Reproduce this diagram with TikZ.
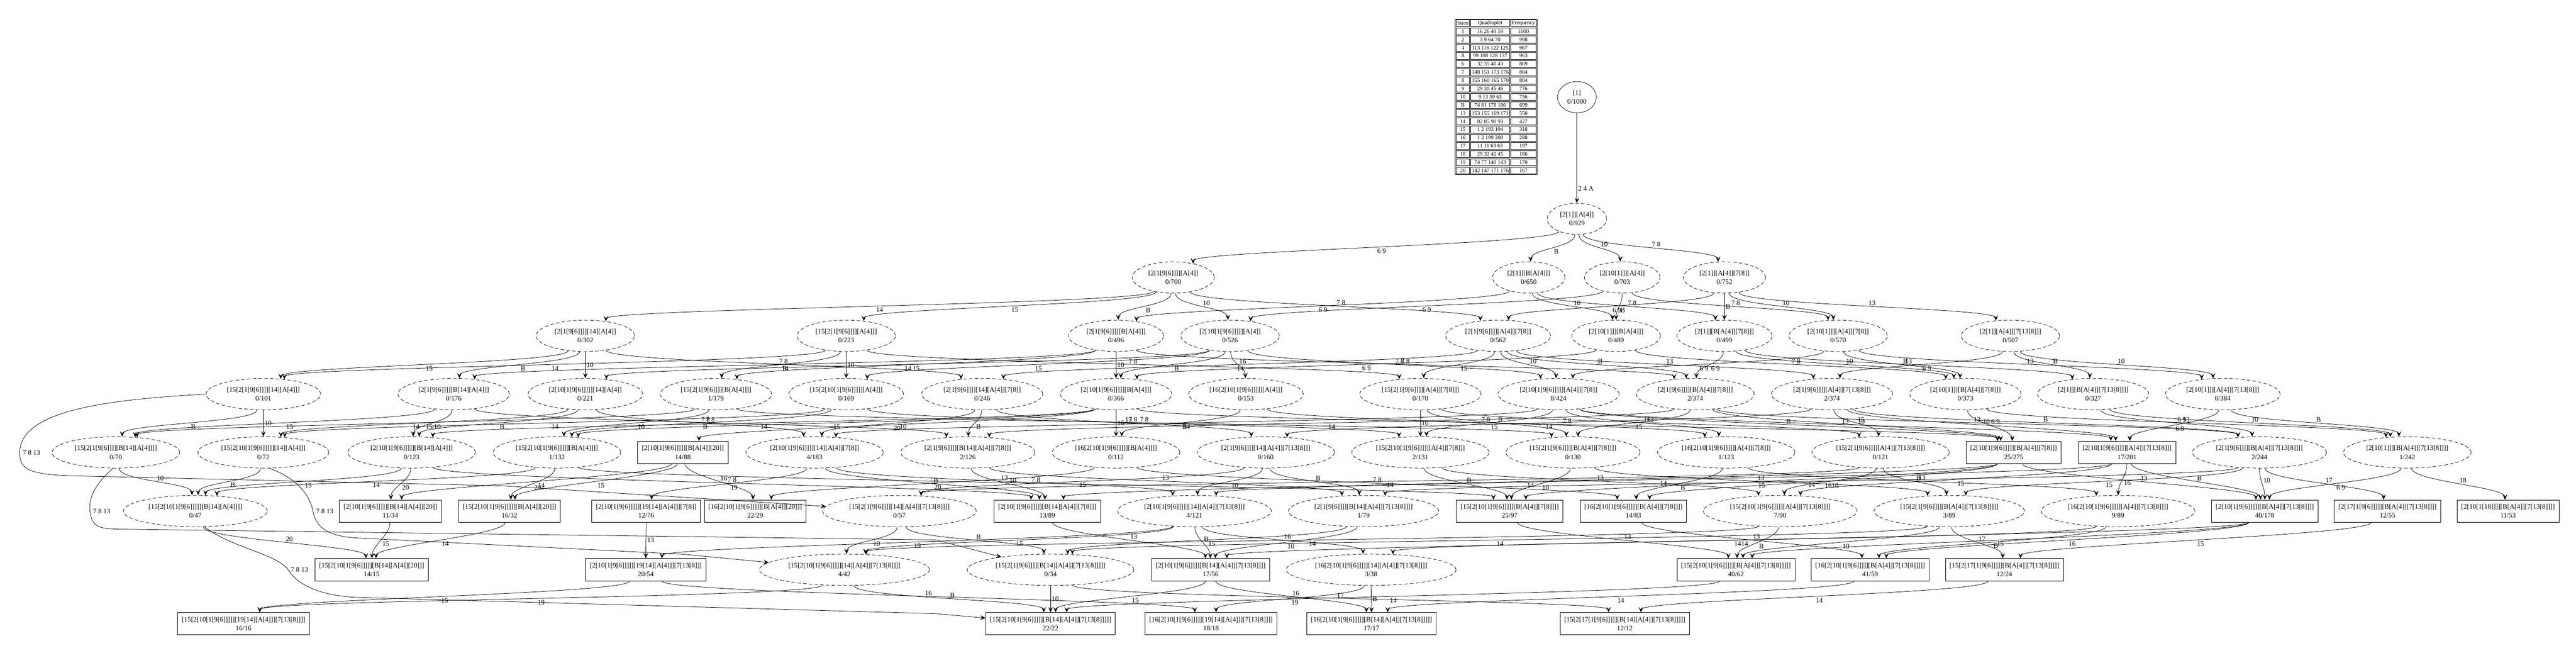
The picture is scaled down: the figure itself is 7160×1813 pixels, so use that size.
\documentclass[tikz,border=0pt]{standalone}
\usepackage{fontspec}
\setmainfont{Liberation Serif}
\usetikzlibrary{shapes.geometric,arrows.meta}
\newdimen\edgxa
\newdimen\edgxb
\newcommand{\nodefnt}{\fontsize{9.6pt}{12.5pt}\selectfont}
\newcommand{\tabfnt}{\fontsize{7.6pt}{9pt}\selectfont}
\tikzset{
  nbase/.style={align=center, font=\nodefnt, line width=0.55pt},
  sn/.style={nbase, draw, ellipse, inner xsep=5.66pt, inner ysep=1pt, minimum height=43.5pt},
  dn/.style={sn, dash pattern=on 5pt off 3pt},
  bx/.style={nbase, draw, rectangle, inner xsep=5.75pt, inner ysep=2pt, minimum height=31pt},
  conn/.style={draw, line width=0.55pt, -{Stealth[length=7.5pt,width=6.5pt,inset=3.2pt]}},
  lab/.style={auto, font=\nodefnt, inner sep=1.5pt},
  cell/.style={draw, line width=0.6pt},
  tx/.style={font=\tabfnt, inner sep=0pt}
}
\newcommand{\edg}[3]{%
  \pgfextractx{\edgxa}{\pgfpointanchor{#1}{center}}%
  \pgfextractx{\edgxb}{\pgfpointanchor{#2}{center}}%
  \pgfmathtruncatemacro{\edgd}{max(-55,min(55,(\edgxb-\edgxa)/9))}%
  \pgfmathtruncatemacro{\edgs}{-90+\edgd}%
  \pgfmathtruncatemacro{\edgt}{90+\edgd}%
  \draw[conn] (#1.\edgs) .. controls +(0,36) and +(0,-36) .. node[lab]{#3} (#2.\edgt);%
}
\begin{document}
\begin{tikzpicture}[x=0.5pt,y=-0.5pt]
\fill[white] (0,0) rectangle (7160,1813);
\useasboundingbox (0,0) rectangle (7160,1813);

% ---------- table ----------
\draw[cell] (4045,53) rectangle (4272,485);
\foreach \tS/\tQ/\tF [count=\tI from 0] in {Stem/Quadruplet/Frequency, 1/16 26 49 59/1000, 2/3 9 64 70/998, 4/113 116 122 125/967, A/99 108 128 137/963, 6/32 35 40 43/869, 7/148 151 173 176/804, 8/155 160 165 170/804, 9/29 30 45 46/776, 10/9 13 59 63/756, B/74 81 178 186/699, 13/153 155 169 171/550, 14/82 85 90 93/427, 15/1 2 193 194/318, 16/1 2 199 200/288, 17/11 11 63 63/197, 18/29 32 42 45/186, 19/74 77 140 143/170, 20/142 147 171 176/167}{
  \pgfmathsetmacro{\yt}{53+\tI*22.74}
  \draw[cell] (4047.5,\yt+1.6) rectangle (4084.5,\yt+21.2);
  \draw[cell] (4087.5,\yt+1.6) rectangle (4196.5,\yt+21.2);
  \draw[cell] (4199.5,\yt+1.6) rectangle (4269.5,\yt+21.2);
  \node[tx] (ts\tI) at (4066,\yt+11.4) {\tS};
  \node[tx] (tq\tI) at (4142,\yt+11.4) {\tQ};
  \node[tx] (tf\tI) at (4234.5,\yt+11.4) {\tF};
}

% ---------- nodes ----------
\node[sn] (root) at (4383,270) {[1]\\0/1000};
\node[dn] (n1) at (4383,608) {[2[1]][A[4]]\\0/929};

\node[dn] (a21) at (3261,771) {[2[1[9[6]]]][A[4]]\\0/700};
\node[dn] (a22) at (4249,771) {[2[1]][B[A[4]]]\\0/650};
\node[dn] (a23) at (4509,771) {[2[10[1]]][A[4]]\\0/703};
\node[dn] (a24) at (4793,771) {[2[1]][A[4]][7[8]]\\0/752};

\node[dn] (a31) at (1627,933) {[2[1[9[6]]]][14][A[4]]\\0/302};
\node[dn] (a32) at (2352,933) {[15[2[1[9[6]]]][A[4]]]\\0/223};
\node[dn] (a33) at (3102,933) {[2[1[9[6]]]][B[A[4]]]\\0/496};
\node[dn] (a34) at (3419,933) {[2[10[1[9[6]]]]][A[4]]\\0/526};
\node[dn] (a35) at (4164,933) {[2[1[9[6]]]][A[4]][7[8]]\\0/562};
\node[dn] (a36) at (4492,933) {[2[10[1]]][B[A[4]]]\\0/489};
\node[dn] (a37) at (4793,933) {[2[1]][B[A[4]][7[8]]]\\0/499};
\node[dn] (a38) at (5109,933) {[2[10[1]]][A[4]][7[8]]\\0/570};
\node[dn] (a39) at (5588,933) {[2[1]][A[4]][7[13[8]]]\\0/507};

\node[dn] (a41) at (732,1095) {[15[2[1[9[6]]]][14][A[4]]]\\0/101};
\node[dn] (a42) at (1261,1095) {[2[1[9[6]]]][B[14][A[4]]]\\0/176};
\node[dn] (a43) at (1627,1095) {[2[10[1[9[6]]]]][14][A[4]]\\0/221};
\node[dn] (a44) at (1990,1095) {[15[2[1[9[6]]]][B[A[4]]]]\\1/179};
\node[dn] (a45) at (2352,1095) {[15[2[10[1[9[6]]]]][A[4]]]\\0/169};
\node[dn] (a46) at (2730,1095) {[2[1[9[6]]]][14][A[4]][7[8]]\\0/246};
\node[dn] (a47) at (3102,1095) {[2[10[1[9[6]]]]][B[A[4]]]\\0/366};
\node[dn] (a48) at (3463,1095) {[16[2[10[1[9[6]]]]][A[4]]]\\0/153};
\node[dn] (a49) at (3948,1095) {[15[2[1[9[6]]]][A[4]][7[8]]]\\0/170};
\node[dn] (a410) at (4332,1095) {[2[10[1[9[6]]]]][A[4]][7[8]]\\8/424};
\node[dn] (a411) at (4712,1095) {[2[1[9[6]]]][B[A[4]][7[8]]]\\2/374};
\node[dn] (a412) at (5092,1095) {[2[1[9[6]]]][A[4]][7[13[8]]]\\2/374};
\node[dn] (a413) at (5463,1095) {[2[10[1]]][B[A[4]][7[8]]]\\0/373};
\node[dn] (a414) at (5818,1095) {[2[1]][B[A[4]][7[13[8]]]]\\0/327};
\node[dn] (a415) at (6178,1095) {[2[10[1]]][A[4]][7[13[8]]]\\0/384};

\node[dn] (a51) at (322,1257) {[15[2[1[9[6]]]][B[14][A[4]]]]\\0/70};
\node[dn] (a52) at (732,1257) {[15[2[10[1[9[6]]]]][14][A[4]]]\\0/72};
\node[dn] (a53) at (1144,1257) {[2[10[1[9[6]]]]][B[14][A[4]]]\\0/123};
\node[dn] (a54) at (1548,1257) {[15[2[10[1[9[6]]]]][B[A[4]]]]\\1/132};
\node[bx] (a55) at (1898,1257) {[2[10[1[9[6]]]]][B[A[4]][20]]\\14/88};
\node[dn] (a56) at (2264,1257) {[2[10[1[9[6]]]]][14][A[4]][7[8]]\\4/183};
\node[dn] (a57) at (2690,1257) {[2[1[9[6]]]][B[14][A[4]][7[8]]]\\2/126};
\node[dn] (a58) at (3102,1257) {[16[2[10[1[9[6]]]]][B[A[4]]]]\\0/112};
\node[dn] (a59) at (3518,1257) {[2[1[9[6]]]][14][A[4]][7[13[8]]]\\0/160};
\node[dn] (a510) at (3948,1257) {[15[2[10[1[9[6]]]]][A[4]][7[8]]]\\2/131};
\node[dn] (a511) at (4372,1257) {[15[2[1[9[6]]]][B[A[4]][7[8]]]]\\0/130};
\node[dn] (a512) at (4798,1257) {[16[2[10[1[9[6]]]]][A[4]][7[8]]]\\1/123};
\node[dn] (a513) at (5227,1257) {[15[2[1[9[6]]]][A[4]][7[13[8]]]]\\0/121};
\node[bx] (a514) at (5597,1257) {[2[10[1[9[6]]]]][B[A[4]][7[8]]]\\25/275};
\node[bx] (a515) at (5912,1257) {[2[10[1[9[6]]]]][A[4]][7[13[8]]]\\17/281};
\node[dn] (a516) at (6280,1257) {[2[1[9[6]]]][B[A[4]][7[13[8]]]]\\2/244};
\node[dn] (a517) at (6691,1257) {[2[10[1]]][B[A[4]][7[13[8]]]]\\1/242};

\node[dn] (a61) at (543,1420) {[15[2[10[1[9[6]]]]][B[14][A[4]]]]\\0/47};
\node[bx] (a62) at (1085,1420) {[2[10[1[9[6]]]]][B[14][A[4]][20]]\\11/34};
\node[bx] (a63) at (1416,1420) {[15[2[10[1[9[6]]]]][B[A[4]][20]]]\\16/32};
\node[bx] (a64) at (1796,1420) {[2[10[1[9[6]]]]][19[14][A[4]]][7[8]]\\12/76};
\node[bx] (a65) at (2099,1420) {[16[2[10[1[9[6]]]]][B[A[4]][20]]]\\22/29};
\node[dn] (a66) at (2500,1420) {[15[2[1[9[6]]]][14][A[4]][7[13[8]]]]\\0/57};
\node[bx] (a67) at (2911,1420) {[2[10[1[9[6]]]]][B[14][A[4]][7[8]]]\\13/89};
\node[dn] (a68) at (3320,1420) {[2[10[1[9[6]]]]][14][A[4]][7[13[8]]]\\4/121};
\node[dn] (a69) at (3790,1420) {[2[1[9[6]]]][B[14][A[4]][7[13[8]]]]\\1/79};
\node[bx] (a610) at (4196,1420) {[15[2[10[1[9[6]]]]][B[A[4]][7[8]]]]\\25/97};
\node[bx] (a611) at (4540,1420) {[16[2[10[1[9[6]]]]][B[A[4]][7[8]]]]\\14/83};
\node[dn] (a612) at (4948,1420) {[15[2[10[1[9[6]]]]][A[4]][7[13[8]]]]\\7/90};
\node[dn] (a613) at (5418,1420) {[15[2[1[9[6]]]][B[A[4]][7[13[8]]]]]\\3/89};
\node[dn] (a614) at (5887,1420) {[16[2[10[1[9[6]]]]][A[4]][7[13[8]]]]\\9/89};
\node[bx] (a615) at (6295,1420) {[2[10[1[9[6]]]]][B[A[4]][7[13[8]]]]\\40/178};
\node[bx] (a616) at (6636,1420) {[2[17[1[9[6]]]]][B[A[4]][7[13[8]]]]\\12/55};
\node[bx] (a617) at (6971,1420) {[2[10[1[18]]]][B[A[4]][7[13[8]]]]\\11/53};

\node[bx] (a71) at (1033,1583) {[15[2[10[1[9[6]]]]][B[14][A[4]][20]]]\\14/15};
\node[bx] (a72) at (1795,1583) {[2[10[1[9[6]]]]][19[14][A[4]]][7[13[8]]]\\20/54};
\node[dn] (a73) at (2347,1583) {[15[2[10[1[9[6]]]]][14][A[4]][7[13[8]]]]\\4/42};
\node[dn] (a74) at (2920,1583) {[15[2[1[9[6]]]][B[14][A[4]][7[13[8]]]]]\\0/34};
\node[bx] (a75) at (3365,1583) {[2[10[1[9[6]]]]][B[14][A[4]][7[13[8]]]]\\17/56};
\node[dn] (a76) at (3811,1583) {[16[2[10[1[9[6]]]]][14][A[4]][7[13[8]]]]\\3/38};
\node[bx] (a77) at (4825,1583) {[15[2[10[1[9[6]]]]][B[A[4]][7[13[8]]]]]\\40/62};
\node[bx] (a78) at (5198,1583) {[16[2[10[1[9[6]]]]][B[A[4]][7[13[8]]]]]\\41/59};
\node[bx] (a79) at (5571,1583) {[15[2[17[1[9[6]]]]][B[A[4]][7[13[8]]]]]\\12/24};

\node[bx] (a81) at (677,1733) {[15[2[10[1[9[6]]]]][19[14][A[4]]][7[13[8]]]]\\16/16};
\node[bx] (a82) at (2920,1733) {[15[2[10[1[9[6]]]]][B[14][A[4]][7[13[8]]]]]\\22/22};
\node[bx] (a83) at (3366,1733) {[16[2[10[1[9[6]]]]][19[14][A[4]]][7[13[8]]]]\\18/18};
\node[bx] (a84) at (3812,1733) {[16[2[10[1[9[6]]]]][B[14][A[4]][7[13[8]]]]]\\17/17};
\node[bx] (a85) at (4516,1733) {[15[2[17[1[9[6]]]]][B[14][A[4]][7[13[8]]]]]\\12/12};

% ---------- edges ----------
\draw[conn] (root) -- node[lab,pos=0.84]{2 4 A} (n1);
\edg{n1}{a21}{6 9}
\edg{n1}{a22}{B}
\edg{n1}{a23}{10}
\edg{n1}{a24}{7 8}

\edg{a21}{a31}{14}
\edg{a21}{a32}{15}
\edg{a21}{a33}{B}
\edg{a22}{a33}{6 9}
\edg{a21}{a34}{10}
\edg{a23}{a34}{6 9}
\edg{a21}{a35}{7 8}
\edg{a24}{a35}{6 9}
\edg{a22}{a36}{10}
\edg{a23}{a36}{B}
\edg{a22}{a37}{7 8}
\edg{a24}{a37}{B}
\edg{a23}{a38}{7 8}
\edg{a24}{a38}{10}
\edg{a24}{a39}{13}

\edg{a32}{a41}{14}
\edg{a31}{a41}{15}
\edg{a31}{a42}{B}
\edg{a33}{a42}{14}
\edg{a31}{a43}{10}
\edg{a34}{a43}{14}
\edg{a33}{a44}{15}
\edg{a32}{a44}{B}
\edg{a32}{a45}{10}
\edg{a34}{a45}{15}
\edg{a35}{a46}{14}
\edg{a31}{a46}{7 8}
\edg{a36}{a47}{6 9}
\edg{a33}{a47}{10}
\edg{a34}{a47}{B}
\edg{a34}{a48}{16}
\edg{a32}{a49}{7 8}
\edg{a35}{a49}{15}
\edg{a38}{a410}{6 9}
\edg{a35}{a410}{10}
\edg{a34}{a410}{7 8}
\edg{a37}{a411}{6 9}
\edg{a35}{a411}{B}
\edg{a33}{a411}{7 8}
\edg{a39}{a412}{6 9}
\edg{a35}{a412}{13}
\edg{a37}{a413}{10}
\edg{a38}{a413}{B}
\edg{a36}{a413}{7 8}
\edg{a39}{a414}{B}
\edg{a37}{a414}{13}
\edg{a39}{a415}{10}
\edg{a38}{a415}{13}

\edg{a42}{a51}{15}
\edg{a41}{a51}{B}
\edg{a44}{a51}{14}
\edg{a41}{a52}{10}
\edg{a43}{a52}{15}
\edg{a45}{a52}{14}
\edg{a42}{a53}{10}
\edg{a43}{a53}{B}
\edg{a47}{a53}{14}
\edg{a44}{a54}{10}
\edg{a47}{a54}{15}
\edg{a45}{a54}{B}
\edg{a47}{a55}{20}
\edg{a46}{a56}{10}
\edg{a410}{a56}{14}
\edg{a43}{a56}{7 8}
\edg{a46}{a57}{B}
\edg{a411}{a57}{14}
\edg{a42}{a57}{7 8}
\edg{a47}{a58}{16}
\edg{a48}{a58}{B}
\edg{a412}{a59}{14}
\edg{a46}{a59}{13}
\edg{a49}{a510}{10}
\edg{a410}{a510}{15}
\edg{a45}{a510}{7 8}
\edg{a411}{a511}{15}
\edg{a49}{a511}{B}
\edg{a44}{a511}{7 8}
\edg{a410}{a512}{16}
\edg{a48}{a512}{7 8}
\edg{a412}{a513}{15}
\edg{a49}{a513}{13}
\edg{a413}{a514}{6 9}
\edg{a411}{a514}{10}
\edg{a410}{a514}{B}
\edg{a47}{a514}{7 8}
\edg{a415}{a515}{6 9}
\edg{a412}{a515}{10}
\edg{a410}{a515}{13}
\edg{a414}{a516}{6 9}
\edg{a412}{a516}{B}
\edg{a411}{a516}{13}
\edg{a414}{a517}{10}
\edg{a415}{a517}{B}
\edg{a413}{a517}{13}

\edg{a51}{a61}{10}
\edg{a53}{a61}{15}
\edg{a52}{a61}{B}
\edg{a54}{a61}{14}
\edg{a55}{a62}{14}
\edg{a53}{a62}{20}
\edg{a55}{a63}{15}
\edg{a54}{a63}{20}
\edg{a56}{a64}{19}
\edg{a55}{a65}{16}
\edg{a58}{a65}{20}
\edg{a59}{a66}{15}
\edg{a513}{a66}{14}
\edg{a57}{a67}{10}
\edg{a56}{a67}{B}
\edg{a514}{a67}{14}
\edg{a53}{a67}{7 8}
\edg{a59}{a68}{10}
\edg{a515}{a68}{14}
\edg{a56}{a68}{13}
\edg{a59}{a69}{B}
\edg{a516}{a69}{14}
\edg{a57}{a69}{13}
\edg{a511}{a610}{10}
\edg{a514}{a610}{15}
\edg{a510}{a610}{B}
\edg{a54}{a610}{7 8}
\edg{a514}{a611}{16}
\edg{a512}{a611}{B}
\edg{a58}{a611}{7 8}
\edg{a513}{a612}{10}
\edg{a515}{a612}{15}
\edg{a510}{a612}{13}
\edg{a516}{a613}{15}
\edg{a513}{a613}{B}
\edg{a511}{a613}{13}
\edg{a515}{a614}{16}
\edg{a512}{a614}{13}
\edg{a517}{a615}{6 9}
\edg{a516}{a615}{10}
\edg{a515}{a615}{B}
\edg{a514}{a615}{13}
\edg{a516}{a616}{17}
\edg{a517}{a617}{18}

\edg{a62}{a71}{15}
\edg{a63}{a71}{14}
\edg{a61}{a71}{20}
\edg{a68}{a72}{19}
\edg{a64}{a72}{13}
\edg{a66}{a73}{10}
\edg{a68}{a73}{15}
\edg{a612}{a73}{14}
\edg{a69}{a74}{15}
\edg{a66}{a74}{B}
\edg{a613}{a74}{14}
\edg{a69}{a75}{10}
\edg{a68}{a75}{B}
\edg{a615}{a75}{14}
\edg{a67}{a75}{13}
\edg{a68}{a76}{16}
\edg{a614}{a76}{14}
\edg{a613}{a77}{10}
\edg{a615}{a77}{15}
\edg{a612}{a77}{B}
\edg{a610}{a77}{13}
\edg{a615}{a78}{16}
\edg{a614}{a78}{B}
\edg{a611}{a78}{13}
\edg{a613}{a79}{17}
\edg{a616}{a79}{15}

\edg{a72}{a81}{15}
\edg{a73}{a81}{19}
\edg{a74}{a82}{10}
\edg{a75}{a82}{15}
\edg{a73}{a82}{B}
\edg{a77}{a82}{14}
\edg{a72}{a83}{16}
\edg{a76}{a83}{19}
\edg{a75}{a84}{16}
\edg{a76}{a84}{B}
\edg{a78}{a84}{14}
\edg{a74}{a85}{17}
\edg{a79}{a85}{14}

% ---------- edges spanning two ranks ----------
\draw[conn] (a41.west) .. controls (300,1110) and (55,1140) .. (55,1257) node[anchor=west,font=\nodefnt,inner sep=4pt]{7 8 13}
  .. controls (55,1300) and (70,1318) .. (200,1322) -- (1400,1350) -- (a66);
\draw[conn] (a51.-100) .. controls (270,1340) and (245,1380) .. (250,1420) node[anchor=west,font=\nodefnt,inner sep=4pt]{7 8 13}
  .. controls (255,1460) and (270,1468) .. (320,1470) -- (2600,1500) -- (a74);
\draw[conn] (a52.-70) .. controls (830,1330) and (862,1380) .. (870,1420) node[anchor=west,font=\nodefnt,inner sep=4pt]{7 8 13}
  .. controls (878,1470) and (920,1492) .. (1000,1495) -- (1900,1540) -- (a73);
\draw[conn] (a61.-60) .. controls (640,1520) and (770,1540) .. (800,1582) node[anchor=west,font=\nodefnt,inner sep=4pt]{7 8 13}
  .. controls (830,1630) and (900,1657) .. (1000,1660) -- (2600,1705) -- (a82);
\end{tikzpicture}
\end{document}
